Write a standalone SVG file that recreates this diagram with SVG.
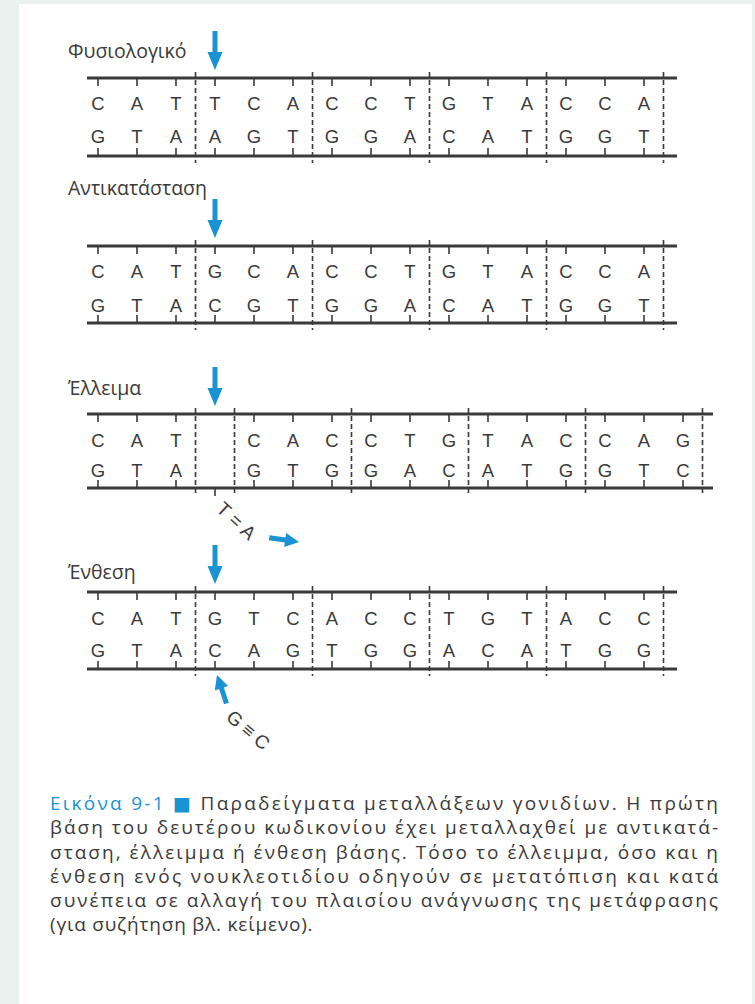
<svg xmlns="http://www.w3.org/2000/svg" xmlns:xlink="http://www.w3.org/1999/xlink" width="755" height="1004" viewBox="0 0 755 1004">
  <style>
    .strand { stroke: #3a3a3a; stroke-width: 3; fill: none; }
    .tick { stroke: #3a3a3a; stroke-width: 1.6; fill: none; }
    .frame { stroke: #3a3a3a; stroke-width: 1.6; fill: none; stroke-dasharray: 5 3; }
    .base { font-family: "Liberation Sans", "DejaVu Sans", sans-serif; font-size: 18.5px; fill: #3a3a3a; text-anchor: middle; }
    .label { font-family: "Open Sans", "DejaVu Sans", sans-serif; font-size: 19.5px; fill: #3a3a3a; }
    .pair { font-family: "Liberation Sans", "DejaVu Sans", sans-serif; font-size: 19px; fill: #3a3a3a; text-anchor: middle; letter-spacing: 5px; }
    .arrow { fill: #1a93d2; }
    .caption { font-family: "Open Sans", "DejaVu Sans", sans-serif; font-size: 19px; fill: #3a3a3a; }
    .blue { fill: #1a93d2; }
  </style>
  <defs>
    <!-- arrow glyphs, tip at the origin, pointing down -->
    <path id="arrowLong" d="M-2.5-39h5v21h5l-7.5 18l-7.5-18h5z"/>
    <path id="arrowShort" d="M-2.5-30h5v16h4.5l-7 14l-7-14h4.5z"/>
  </defs>

  <!-- page -->
  <rect x="0" y="0" width="755" height="1004" fill="#eaf2ef"/>
  <rect x="19" y="4" width="733" height="1000" fill="#ffffff"/>

  <!-- normal sequence -->
  <g id="normal">
    <text class="label" x="68" y="58">Φυσιολογικό</text>
    <path class="strand" d="M87 78H677M87 156H677"/>
    <path class="tick" d="M98 78v8m39-8v8m39-8v8m39-8v8m39-8v8m39-8v8m39-8v8m39-8v8m39-8v8m39-8v8m39-8v8m39-8v8m39-8v8m39-8v8m39-8v8"/>
    <path class="tick" d="M98 156v-8m39 8v-8m39 8v-8m39 8v-8m39 8v-8m39 8v-8m39 8v-8m39 8v-8m39 8v-8m39 8v-8m39 8v-8m39 8v-8m39 8v-8m39 8v-8m39 8v-8"/>
    <path class="frame" d="M195.5 72V163M312.5 72V163M429.5 72V163M546.5 72V163M663.5 72V163"/>
    <text class="base" x="98 137 176 215 254 293 332 371 410 449 488 527 566 605 644" y="110">CATTCACCTGTACCA</text>
    <text class="base" x="98 137 176 215 254 293 332 371 410 449 488 527 566 605 644" y="143">GTAAGTGGACATGGT</text>
  </g>

  <!-- substitution -->
  <g id="substitution">
    <text class="label" x="68" y="195">Αντικατάσταση</text>
    <path class="strand" d="M87 246H677M87 323H677"/>
    <path class="tick" d="M98 246v8m39-8v8m39-8v8m39-8v8m39-8v8m39-8v8m39-8v8m39-8v8m39-8v8m39-8v8m39-8v8m39-8v8m39-8v8m39-8v8m39-8v8"/>
    <path class="tick" d="M98 323v-8m39 8v-8m39 8v-8m39 8v-8m39 8v-8m39 8v-8m39 8v-8m39 8v-8m39 8v-8m39 8v-8m39 8v-8m39 8v-8m39 8v-8m39 8v-8m39 8v-8"/>
    <path class="frame" d="M195.5 240V330M312.5 240V330M429.5 240V330M546.5 240V330M663.5 240V330"/>
    <text class="base" x="98 137 176 215 254 293 332 371 410 449 488 527 566 605 644" y="278">CATGCACCTGTACCA</text>
    <text class="base" x="98 137 176 215 254 293 332 371 410 449 488 527 566 605 644" y="312">GTACGTGGACATGGT</text>
  </g>

  <!-- deletion -->
  <g id="deletion">
    <text class="label" x="68" y="395">Έλλειμα</text>
    <path class="strand" d="M87 414H713M87 488H713"/>
    <path class="tick" d="M98 414v8m39-8v8m39-8v8m78-8v8m39-8v8m39-8v8m39-8v8m39-8v8m39-8v8m39-8v8m39-8v8m39-8v8m39-8v8m39-8v8m39-8v8"/>
    <path class="tick" d="M98 488v-8m39 8v-8m39 8v-8m78 8v-8m39 8v-8m39 8v-8m39 8v-8m39 8v-8m39 8v-8m39 8v-8m39 8v-8m39 8v-8m39 8v-8m39 8v-8m39 8v-8M215 488v8"/>
    <path class="frame" d="M195.5 408V496M234.5 408V496M351.5 408V496M468.5 408V496M585.5 408V496M702.5 408V496"/>
    <text class="base" x="98 137 176 254 293 332 371 410 449 488 527 566 605 644 683" y="447">CATCACCTGTACCAG</text>
    <text class="base" x="98 137 176 254 293 332 371 410 449 488 527 566 605 644 683" y="477">GTAGTGGACATGGTC</text>
    <text class="pair" transform="translate(237 521) rotate(43)" x="2" y="7">T=A</text>
  </g>

  <!-- insertion -->
  <g id="insertion">
    <text class="label" x="68" y="579">Ένθεση</text>
    <path class="strand" d="M87 592H677M87 669H677"/>
    <path class="tick" d="M98 592v8m39-8v8m39-8v8m39-8v8m39-8v8m39-8v8m39-8v8m39-8v8m39-8v8m39-8v8m39-8v8m39-8v8m39-8v8m39-8v8m39-8v8"/>
    <path class="tick" d="M98 669v-8m39 8v-8m39 8v-8m39 8v-8m39 8v-8m39 8v-8m39 8v-8m39 8v-8m39 8v-8m39 8v-8m39 8v-8m39 8v-8m39 8v-8m39 8v-8m39 8v-8"/>
    <path class="frame" d="M195.5 586V676M312.5 586V676M429.5 586V676M546.5 586V676M663.5 586V676"/>
    <text class="base" x="98 137 176 215 254 293 332 371 410 449 488 527 566 605 644" y="625">CATGTCACCTGTACC</text>
    <text class="base" x="98 137 176 215 254 293 332 371 410 449 488 527 566 605 644" y="657">GTACAGTGGACATGG</text>
    <text class="pair" transform="translate(249 730) rotate(40)" x="2" y="7">G≡C</text>
  </g>

  <!-- mutation arrows -->
  <g id="connectors" class="arrow">
    <use xlink:href="#arrowLong" transform="translate(215 70)"/>
    <use xlink:href="#arrowLong" transform="translate(215 238)"/>
    <use xlink:href="#arrowLong" transform="translate(215 406)"/>
    <use xlink:href="#arrowLong" transform="translate(215 584)"/>
    <use xlink:href="#arrowShort" transform="translate(299 542) rotate(-82)"/>
    <use xlink:href="#arrowShort" transform="translate(217 675) rotate(161.6)"/>
  </g>

  <!-- figure caption -->
  <g id="caption" class="caption">
    <text x="50" y="810" textLength="668" lengthAdjust="spacing"><tspan class="blue">Εικόνα 9-1</tspan> <tspan class="blue">■</tspan> Παραδείγματα μεταλλάξεων γονιδίων. Η πρώτη</text>
    <text x="50" y="834" textLength="668" lengthAdjust="spacing">βάση του δευτέρου κωδικονίου έχει μεταλλαχθεί με αντικατά-</text>
    <text x="50" y="858.5" textLength="668" lengthAdjust="spacing">σταση, έλλειμμα ή ένθεση βάσης. Τόσο το έλλειμμα, όσο και η</text>
    <text x="50" y="882.5" textLength="668" lengthAdjust="spacing">ένθεση ενός νουκλεοτιδίου οδηγούν σε μετατόπιση και κατά</text>
    <text x="50" y="907" textLength="668" lengthAdjust="spacing">συνέπεια σε αλλαγή του πλαισίου ανάγνωσης της μετάφρασης</text>
    <text x="50" y="931" letter-spacing="0.8">(για συζήτηση βλ. κείμενο).</text>
  </g>
</svg>
